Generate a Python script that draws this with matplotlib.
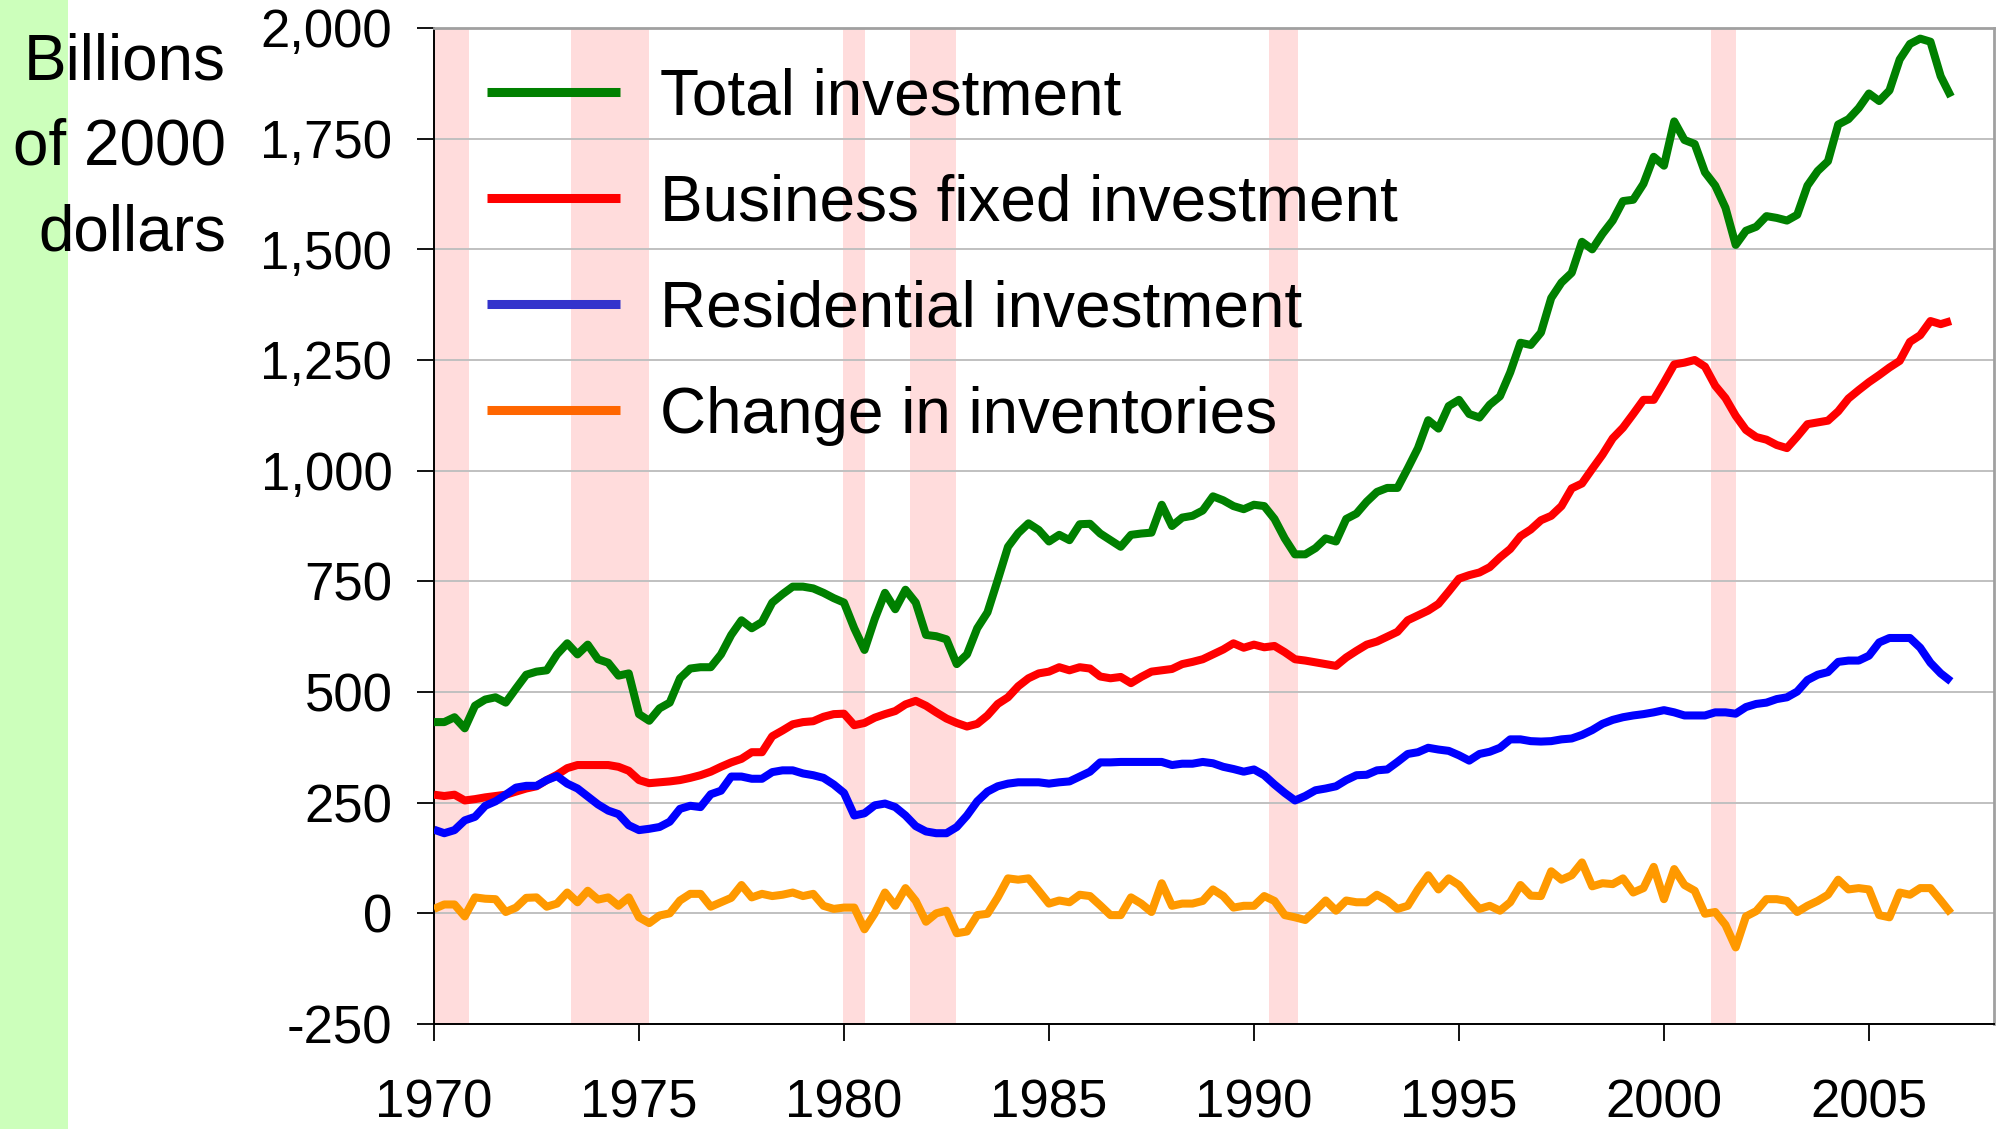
import numpy as np
import matplotlib
matplotlib.use("Agg")
import matplotlib.pyplot as plt
from matplotlib.lines import Line2D
from matplotlib.patches import Rectangle
from matplotlib.ticker import FuncFormatter, FixedLocator

plt.rcParams['font.family'] = ['Liberation Sans', 'DejaVu Sans']

# Quarterly data, 1970Q1 .. 2007Q1, billions of 2000 dollars
start_year = 1970

total = [432, 432, 443, 418, 469, 483, 488, 476, 508, 539, 546, 549, 585, 610, 585, 607,
         574, 566, 537, 542, 450, 435, 463,
         476, 531, 553, 556, 556, 585, 629, 662, 644, 658, 702, 721, 738, 738, 734, 724,
         712, 702, 644, 595,
         665,
         724, 687, 731, 702, 629, 626, 619, 563, 585, 644, 680, 753, 828, 859, 881, 866,
         840, 855, 843, 879,
         880, 858, 843, 828, 855, 858, 860, 923, 875, 894, 898, 910, 942, 933, 920, 913,
         923, 920, 891, 847, 811, 811,
         825,
         847, 840, 891, 903, 930, 952, 961, 961, 1005, 1051, 1114, 1095, 1146, 1160, 1128,
         1120, 1149, 1168, 1222, 1289, 1284,
         1312,
         1390, 1425, 1447, 1517, 1500, 1535, 1565, 1609, 1612, 1648, 1709, 1689, 1789, 1747,
         1738, 1674, 1644, 1594, 1510, 1542,
         1551, 1575, 1571, 1565, 1578, 1644, 1677, 1699, 1782, 1794, 1819, 1852, 1835, 1859,
         1929, 1964, 1976, 1969, 1891, 1845]

business = [268, 265, 268, 255, 258, 262, 265, 268, 275, 282, 287, 301, 313, 328, 335, 335,
            335, 335, 331, 322, 301, 294, 296,
            298, 301, 306, 312, 320, 331, 341, 349, 364, 364, 400, 413, 427, 432, 434, 444,
            450, 451, 425, 430,
            442,
            450, 457, 472, 480, 469, 454, 440, 430, 422, 428, 447, 473, 488, 513, 531, 542,
            546, 556, 549, 556,
            553, 535, 531, 534, 520, 534, 546, 549, 552, 563, 568, 574, 585, 596, 610, 600,
            607, 601, 604, 590, 574, 571,
            567,
            563, 559, 578, 593, 607, 614, 625, 636, 662, 673, 684, 699, 727, 756, 764, 770,
            782, 804, 823, 852, 867,
            888,
            898, 920, 960, 971, 1004, 1036, 1073, 1097, 1128, 1160, 1160, 1199, 1240, 1244,
            1250, 1235, 1192, 1164, 1124, 1092,
            1076, 1070, 1058, 1051, 1077, 1105, 1109, 1113, 1134, 1163, 1182, 1200, 1216, 1233,
            1248, 1291, 1306, 1338, 1331, 1338]

residential = [189, 181, 188, 210, 218, 243, 253, 268, 284, 288, 288, 301, 310, 293, 282, 264,
               246, 232, 224, 199, 188, 191, 195,
               207, 236, 243, 240, 269, 277, 309, 309, 304, 304, 319, 323, 323, 316, 312, 306,
               291, 272, 221, 226,
               244,
               248, 240, 221, 197, 185, 181, 181, 195, 221, 253, 275, 287, 293, 296, 296, 296,
               293, 296, 298, 309,
               320, 341, 341, 342, 342, 342, 342, 342, 335, 338, 338, 342, 339, 331, 326, 320,
               325, 312, 291, 272, 255, 265,
               278,
               282, 287, 301, 312, 313, 323, 325, 342, 360, 364, 374, 370, 367, 357, 345, 360,
               365, 374, 393, 393, 389,
               388,
               389, 393, 395, 403, 414, 428, 437, 443, 447, 450, 454, 459, 454, 447, 447, 447,
               454, 454, 451, 466,
               473, 476, 484, 488, 501, 527, 539, 545, 568, 571, 571, 582, 612, 622, 622, 622,
               600, 566, 542, 524]

inventories = [10, 20, 20, -7, 36, 33, 32, 3, 13, 35, 36, 15, 22, 47, 25, 51, 31, 36, 17, 36,
               -9, -22, -5,
               0, 29, 44, 44, 15, 25, 35, 64, 36, 44, 39, 42, 47, 39, 44, 17, 10, 13, 13, -36,
               0,
               47, 17, 57, 28, -19, 0, 6, -45, -41, -4, -1, 36, 79, 76, 79, 51, 22, 29, 25, 42,
               39, 18, -4, -4, 36, 22, 3, 68, 17, 22, 22, 28, 54, 39, 13, 17, 17, 39, 28, -4,
               -9, -15,
               6,
               29, 6, 29, 25, 25, 42, 29, 10, 17, 54, 86, 54, 79, 64, 36, 10, 17, 6, 25, 64, 40,
               39,
               95, 76, 86, 115, 61, 68, 66, 79, 47, 57, 105, 32, 100, 64, 51, -1, 3, -26, -77, -7,
               5, 32, 32, 28, 3, 17, 28, 42, 76, 54, 57, 54, -4, -9, 47, 42, 57, 57, 29, 0]

# recession periods (fractional years)
recessions = [(1970.0, 1970.85), (1973.33, 1975.24), (1979.98, 1980.51),
              (1981.6, 1982.73), (1990.37, 1991.07), (2001.15, 2001.76)]

series_names = ['Total investment', 'Business fixed investment',
                'Residential investment', 'Change in inventories']
line_colors = ['#008000', '#FF0000', '#0000FF', '#FF9900']
legend_colors = ['#008000', '#FF0000', '#3333CC', '#FF6600']
year_ticks = [1970, 1975, 1980, 1985, 1990, 1995, 2000, 2005]
value_ticks = [-250, 0, 250, 500, 750, 1000, 1250, 1500, 1750, 2000]

quarters = start_year + np.arange(len(total)) / 4.0

fig = plt.figure(figsize=(20.02, 11.29), dpi=100)
fig.add_artist(Rectangle((0, 0), 68 / 2002, 1, transform=fig.transFigure,
                         facecolor='#CCFFBB', edgecolor='none', zorder=0))

ax = fig.add_axes([434 / 2002, 1 - 1024 / 1129, 1560 / 2002, 996 / 1129])

for start, end in recessions:
    ax.axvspan(start, end, facecolor='#FFDCDC', edgecolor='none', zorder=0.2)

ax.grid(axis='y', color='#C0C0C0', linewidth=1.4, zorder=0.5)

for values, color in zip([total, business, residential, inventories], line_colors):
    ax.plot(quarters, values, color=color, linewidth=5.8, solid_joinstyle='round',
            solid_capstyle='butt', zorder=3)

ax.set_xlim(1970, 2008.05)
ax.set_ylim(-250, 2000)
ax.xaxis.set_major_locator(FixedLocator(year_ticks))
ax.yaxis.set_major_locator(FixedLocator(value_ticks))
ax.yaxis.set_major_formatter(FuncFormatter(lambda v, pos: f'{v:,.0f}'))

ax.tick_params(axis='both', direction='out', length=12, width=1.3, colors='black',
               labelsize=38)
ax.tick_params(axis='y', pad=18)
ax.tick_params(axis='x', pad=27)

for side in ['left', 'bottom']:
    ax.spines[side].set_color('black')
    ax.spines[side].set_linewidth(1.4)
for side in ['top', 'right']:
    ax.spines[side].set_color('#A0A0A0')
    ax.spines[side].set_linewidth(2)

handles = [Line2D([], [], color=c, linewidth=6.5, solid_capstyle='butt') for c in legend_colors]
ax.legend(handles, series_names, loc='upper left', bbox_to_anchor=(0.034, 0.960),
          frameon=False, fontsize=46, handlelength=2.08, handletextpad=0.62,
          labelspacing=0.72, borderpad=0, borderaxespad=0)

fig.text(226 / 2002, 1 - 32 / 1129, 'Billions\nof 2000\ndollars', ha='right', va='top',
         fontsize=46, linespacing=1.55)

fig.savefig('out.png', dpi=100)
